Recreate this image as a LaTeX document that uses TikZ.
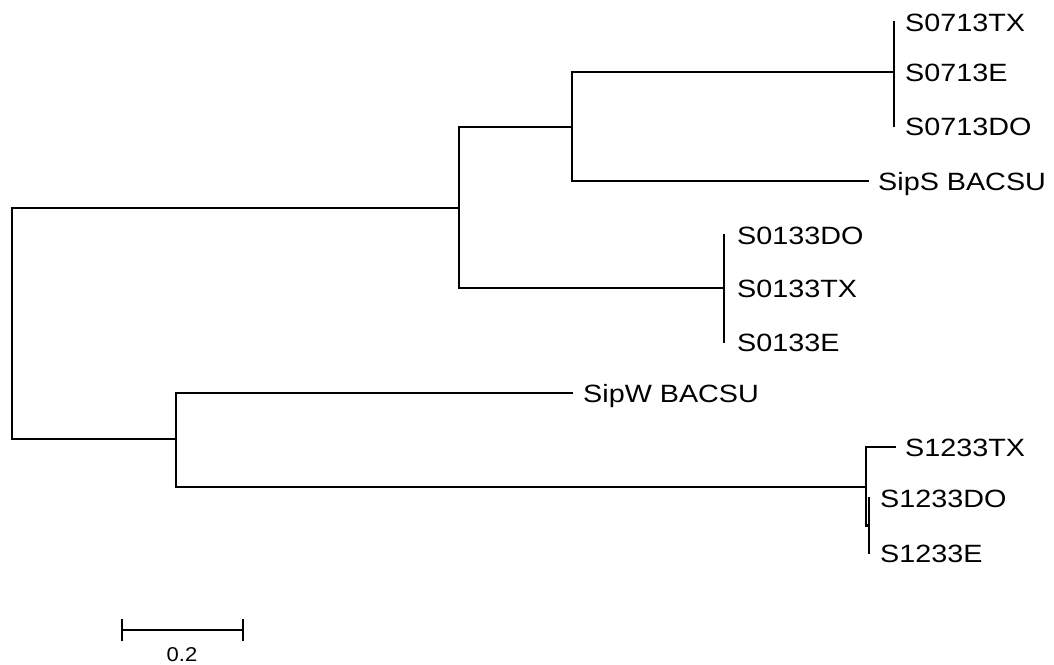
\documentclass[tikz,border=0pt]{standalone}
\usepackage{fontspec}
\usepackage{graphicx}
\setmainfont{Liberation Sans}
\newcommand\hstretch[1]{\scalebox{1.15}[1]{#1}}
\begin{document}
\begin{tikzpicture}[x=1pt,y=-1pt,
  branch/.style={line width=2.8pt,line cap=rect,line join=miter},
  leaf/.style={anchor=west,inner xsep=11pt,inner ysep=0pt,font=\fontsize{25}{25}\selectfont,text height=18pt,text depth=0pt,text=black},
  scalelbl/.style={inner sep=0pt,font=\fontsize{20}{20}\selectfont,text=black}]
\useasboundingbox (0,0) rectangle (1054,664);
% leaves
\node[leaf] (t0713tx) at (894,22) {\hstretch{S0713TX}};
\node[leaf] (t0713e) at (894,72) {\hstretch{S0713E}};
\node[leaf] (t0713do) at (894,126) {\hstretch{S0713DO}};
\node[leaf,inner xsep=10pt] (sips) at (868,181) {\hstretch{SipS BACSU}};
\node[leaf,inner xsep=13pt] (t0133do) at (724,235) {\hstretch{S0133DO}};
\node[leaf,inner xsep=13pt] (t0133tx) at (724,288) {\hstretch{S0133TX}};
\node[leaf,inner xsep=13pt] (t0133e) at (724,342) {\hstretch{S0133E}};
\node[leaf] (sipw) at (572,393) {\hstretch{SipW BACSU}};
\node[leaf,inner xsep=10pt] (t1233tx) at (895,447) {\hstretch{S1233TX}};
\node[leaf] (t1233do) at (869,498) {\hstretch{S1233DO}};
\node[leaf] (t1233e) at (869,553) {\hstretch{S1233E}};
% internal nodes
\coordinate (r) at (12,323.5);
\coordinate (a) at (459,208);
\coordinate (b) at (176,439);
\coordinate (a1) at (572,127);
\coordinate (a2) at (724,288);
\coordinate (a11) at (894,72);
\coordinate (b2) at (866,487);
\coordinate (b21) at (869,525.5);
% branches
\draw[branch] (a) -| (r) |- (b);
\draw[branch] (a1) -| (a) |- (a2);
\draw[branch] (a11) -| (a1) |- (sips.west);
\draw[branch] (t0713tx.west) -- (t0713do.west);
\draw[branch] (t0133do.west) -- (t0133e.west);
\draw[branch] (sipw.west) -| (b) |- (b2);
\draw[branch] (t1233tx.west) -| (b2) |- (b21);
\draw[branch] (t1233do.west) -- (t1233e.west);
% scale bar
\coordinate (s1) at (122,630);
\coordinate (s2) at (243,630);
\coordinate (s1t) at (122,619);
\coordinate (s1b) at (122,641);
\coordinate (s2t) at (243,619);
\coordinate (s2b) at (243,641);
\draw[branch,line cap=butt] (s1) -- (s2);
\draw[branch,line cap=butt] (s1t) -- (s1b);
\draw[branch,line cap=butt] (s2t) -- (s2b);
\node[scalelbl] (sl) at (182,655) {\scalebox{1.1}[1]{0.2}};
\end{tikzpicture}
\end{document}
